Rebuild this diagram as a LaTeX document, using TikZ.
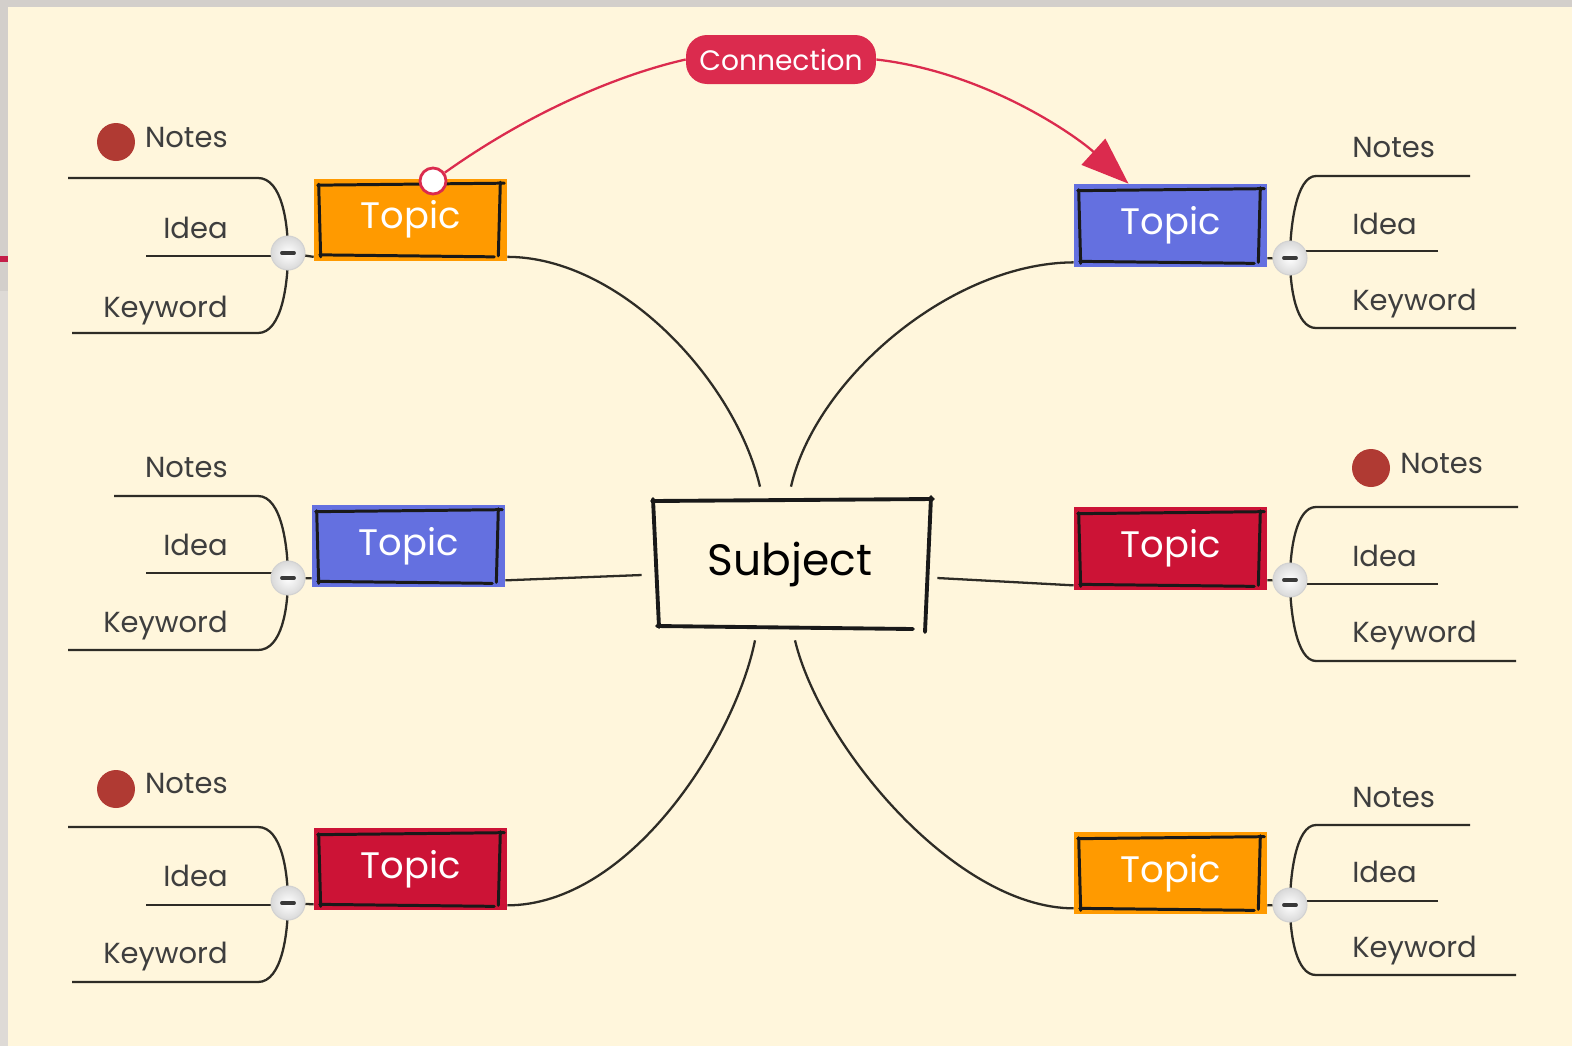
\documentclass[tikz,border=0pt]{standalone}
\usepackage{fontspec}
\setmainfont{Poppins}
\usetikzlibrary{calc,arrows.meta}
\definecolor{bg}{HTML}{FFF6DC}
\definecolor{frame}{HTML}{D3CFCB}
\definecolor{framelight}{HTML}{DEDAD6}
\definecolor{markred}{HTML}{C41E48}
\definecolor{orangeT}{HTML}{FF9A00}
\definecolor{blueT}{HTML}{6470E0}
\definecolor{redT}{HTML}{CC1336}
\definecolor{conred}{HTML}{DB2B4E}
\definecolor{dotred}{HTML}{B03A33}
\definecolor{leafgray}{HTML}{3E3E3E}
\definecolor{branchcol}{HTML}{2E2C26}
\newcommand\sketchin[1]{%
 \draw[sketch] ($(#1.north west)+(4,7)$) -- ($(#1.north east)+(-3,5)$);
 \draw[sketch] ($(#1.north east)+(-7,4)$) -- ($(#1.south east)+(-9,-5)$);
 \draw[sketch] ($(#1.south east)+(-13,-4)$) -- ($(#1.south west)+(6,-6)$);
 \draw[sketch] ($(#1.south west)+(7,-4)$) -- ($(#1.north west)+(5,6)$);
}
\newcommand\LeftBranches[8]{%
 \coordinate (#1c) at (#2,#3);
 \coordinate (#1n) at (#7,#4);
 \coordinate (#1i) at (146,#5);
 \coordinate (#1k) at (#8,#6);
 \draw[branch] (#1n) -- ({#2-30},#4) .. controls ({#2-6},#4) and (#2,{#3-30}) .. (#1c);
 \draw[branch] (#1i) -- (#2,#5);
 \draw[branch] (#1k) -- ({#2-30},#6) .. controls ({#2-6},#6) and (#2,{#3+30}) .. (#1c);
 \node[button] (#1b) at (#1c) {};
 \draw[minus] ($(#1b)+(-6,0)$) -- ($(#1b)+(6,0)$);
}
\newcommand\RightBranches[8]{%
 \coordinate (#1c) at (#2,#3);
 \coordinate (#1n) at (#7,#4);
 \coordinate (#1i) at (1438,#5);
 \coordinate (#1k) at (#8,#6);
 \draw[branch] (#1n) -- ({#2+26},#4) .. controls ({#2+6},#4) and (#2,{#3-30}) .. (#1c);
 \draw[branch] (#1i) -- (#2,#5);
 \draw[branch] (#1k) -- ({#2+26},#6) .. controls ({#2+6},#6) and (#2,{#3+30}) .. (#1c);
 \node[button] (#1b) at (#1c) {};
 \draw[minus] ($(#1b)+(-6,0)$) -- ($(#1b)+(6,0)$);
}
\begin{document}
\begin{tikzpicture}[x=0.02cm,y=-0.02cm,
  topic/.style={minimum width=3.86cm, minimum height=1.64cm, inner sep=0,
    font=\fontsize{21}{25}\selectfont, text=white},
  subj/.style={minimum width=5.6cm, minimum height=2.64cm, inner sep=0,
    font=\fontsize{25}{30}\selectfont, text=black},
  sketch/.style={line width=1.7pt, draw=black!90, line cap=round},
  sketchbig/.style={line width=2.2pt, draw=black!90, line cap=round},
  button/.style={circle, minimum size=0.68cm, inner sep=0, draw=gray!35, line width=0.6pt,
    inner color=white, outer color=gray!30},
  minus/.style={line width=2.2pt, draw=gray!45!black, line cap=round},
  leaf/.style={font=\fontsize{16.5}{19}\selectfont, text=leafgray, inner sep=0},
  branch/.style={line width=1.3pt, draw=branchcol},
  link/.style={line width=1.3pt, draw=conred},
  notedot/.style={circle, fill=dotred, minimum size=0.76cm, inner sep=0},
  conlabel/.style={rounded corners=0.42cm, fill=conred, text=white, minimum width=3.8cm,
    minimum height=0.98cm, inner sep=0, font=\fontsize{16}{19}\selectfont},
  startmark/.style={circle, fill=white, draw=conred, line width=1.6pt, minimum size=0.52cm, inner sep=0}]
\useasboundingbox (0,0) rectangle (1572,1046);
% background and frame
\fill[bg] (0,0) rectangle (1572,1046);
\fill[frame] (0,0) rectangle (1572,7);
\fill[frame] (0,0) rectangle (8,291);
\fill[framelight] (0,291) rectangle (8,1046);
\fill[markred] (0,256) rectangle (8,262);

% subject
\node[subj] (subj) at (790,564) {Subject};
\draw[sketchbig] (652,501) -- (933,499);
\draw[sketchbig] (653,499) -- (659,627);
\draw[sketchbig] (657,626) -- (913,629);
\draw[sketchbig] (931,497) -- (925,632);

% topics
\node[topic, fill=orangeT] (tl) at (410.5,219.5) {Topic};
\node[topic, fill=blueT, minimum height=1.66cm] (tr) at (1170.5,225.5) {Topic};
\node[topic, fill=blueT] (ml) at (408.5,546) {Topic};
\node[topic, fill=redT, minimum height=1.66cm] (mr) at (1170.5,548.5) {Topic};
\node[topic, fill=redT] (bl) at (410.5,869) {Topic};
\node[topic, fill=orangeT] (br) at (1170.5,873) {Topic};
\sketchin{tl}\sketchin{tr}\sketchin{ml}\sketchin{mr}\sketchin{bl}\sketchin{br}

% connectors subject -> topics
\coordinate (sTL) at ($(subj.north)+(-30,-11)$);
\coordinate (sTR) at ($(subj.north)+(1,-11)$);
\coordinate (sBL) at ($(subj.south)+(-35,10)$);
\coordinate (sBR) at ($(subj.south)+(5,10)$);
\coordinate (sML) at ($(subj.west)+(-8,11)$);
\coordinate (sMR) at ($(subj.east)+(7,14)$);
\draw[branch] (sTL) .. controls (735,380) and (620,257) .. ($(tl.south east)+(0,-4)$);
\draw[branch] (sTR) .. controls (815,380) and (950,263) .. ($(tr.south west)+(0,-5)$);
\draw[branch] (sBL) .. controls (735,740) and (630,905) .. ($(bl.south east)+(0,-5)$);
\draw[branch] (sBR) .. controls (820,745) and (955,908) .. ($(br.south west)+(0,-6)$);
\draw[branch] (sML) -- ($(ml.south east)+(0,-7)$);
\draw[branch] (sMR) -- ($(mr.south west)+(0,-5)$);

% branch groups
\LeftBranches{gtl}{288}{253}{178}{256}{333}{68}{72}
\LeftBranches{gml}{288}{578}{496}{573}{650}{114}{68}
\LeftBranches{gbl}{288}{903}{827}{905}{982}{68}{72}
\RightBranches{gtr}{1290}{258}{176}{251}{328}{1470}{1516}
\RightBranches{gmr}{1290}{580}{507}{584}{661}{1518}{1516}
\RightBranches{gbr}{1290}{905}{825}{901}{975}{1470}{1516}
\draw[branch] (gtlb) -- ($(tl.south west)+(0,-4)$);
\draw[branch] (gmlb) -- ($(ml.south west)+(0,-9)$);
\draw[branch] (gblb) -- ($(bl.south west)+(0,-6)$);
\draw[branch] (gtrb) -- ($(tr.south east)+(0,-9)$);
\draw[branch] (gmrb) -- ($(mr.south east)+(0,-10)$);
\draw[branch] (gbrb) -- ($(br.south east)+(0,-9)$);

% leaf texts left
\node[notedot] (dtl) at (116,142) {};
\node[leaf, anchor=base east] (tlN) at (228,147) {Notes};
\node[leaf, anchor=base east] (tlI) at (228,238) {Idea};
\node[leaf, anchor=base east] (tlK) at (228,317) {Keyword};
\node[leaf, anchor=base east] (mlN) at (228,477) {Notes};
\node[leaf, anchor=base east] (mlI) at (228,555) {Idea};
\node[leaf, anchor=base east] (mlK) at (228,632) {Keyword};
\node[notedot] (dbl) at (116,789) {};
\node[leaf, anchor=base east] (blN) at (228,793) {Notes};
\node[leaf, anchor=base east] (blI) at (228,886) {Idea};
\node[leaf, anchor=base east] (blK) at (228,963) {Keyword};
% leaf texts right
\node[leaf, anchor=base west] (trN) at (1352,157) {Notes};
\node[leaf, anchor=base west] (trI) at (1352,234) {Idea};
\node[leaf, anchor=base west] (trK) at (1352,310) {Keyword};
\node[notedot] (dmr) at (1371,468) {};
\node[leaf, anchor=base west] (mrN) at (1400,473) {Notes};
\node[leaf, anchor=base west] (mrI) at (1352,566) {Idea};
\node[leaf, anchor=base west] (mrK) at (1352,642) {Keyword};
\node[leaf, anchor=base west] (brN) at (1352,807) {Notes};
\node[leaf, anchor=base west] (brI) at (1352,882) {Idea};
\node[leaf, anchor=base west] (brK) at (1352,957) {Keyword};

% connection
\node[conlabel] (conn) at (781,59.5) {Connection};
\node[startmark] (cstart) at (433,181) {};
\coordinate (ctip) at ($(tr.north)+(-42,0)$);
\draw[link] (cstart) .. controls (540,105) and (630,72) .. (conn.west);
\draw[link, -{Triangle[length=0.95cm,width=0.7cm]}] (conn.east) .. controls (985,72) and (1075,135) .. (ctip);
\end{tikzpicture}
\end{document}
